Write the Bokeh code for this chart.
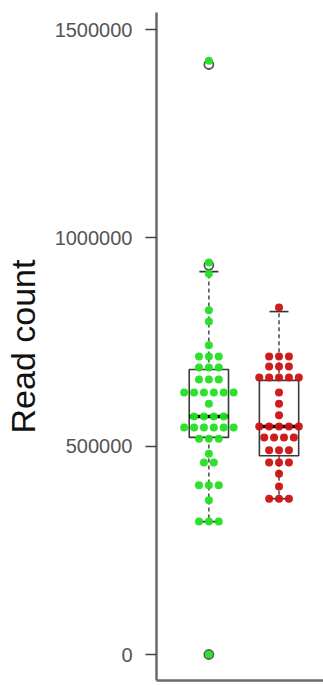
from bokeh.plotting import figure
from bokeh.models import Range1d, FixedTicker, BasicTickFormatter, ColumnDataSource
from bokeh.embed import file_html
from bokeh.resources import INLINE
import numpy as np

# ---- data ----
groups = ["A", "B"]
group_pos = [1, 2]
colors = ["#22e022", "#cc1010"]

green_values = ([1425000, 941000, 914000, 826000, 799000, 742000]
                + [715000] * 3 + [689000] * 3 + [660000] * 3 + [629000] * 6
                + [602000] + [571000] * 4 + [545000] * 6 + [518000] * 3
                + [482000] + [461000] * 2 + [406000] * 3 + [370000]
                + [319000] * 3 + [0])
red_values = ([833000] + [715000] * 3 + [691000] * 3 + [665000] * 5
              + [629000] + [602000] + [574000] + [547000] * 5 + [521000] * 4
              + [490000] * 3 + [461000] * 3 + [434000] + [403000] + [374000] * 3)

# boxplot statistics: lower whisker, Q1, median, Q3, upper whisker
box_low = [319000, 374000]
box_q1 = [521000, 477000]
box_med = [571000, 547000]
box_q3 = [684000, 658000]
box_high = [919000, 823000]
outliers_green = [1416000, 934000, 0]

W, H = 323, 685
p = figure(width=W, height=H, output_backend="svg", toolbar_location=None,
           x_range=Range1d(0.2535, 2.634), y_range=Range1d(-62400, 1540800),
           min_border_left=154, min_border_right=0, min_border_top=12,
           min_border_bottom=5)
p.grid.visible = False
p.outline_line_color = None
p.background_fill_color = "white"
p.border_fill_color = "white"

# y axis
p.yaxis.ticker = FixedTicker(ticks=[0, 500000, 1000000, 1500000])
p.yaxis.formatter = BasicTickFormatter(use_scientific=False)
p.yaxis.axis_label = "Read count"
p.yaxis.axis_label_text_font = "Liberation Sans"
p.yaxis.axis_label_text_font_size = "34px"
p.yaxis.axis_label_text_font_style = "normal"
p.yaxis.axis_label_text_color = "#111111"
p.yaxis.axis_label_standoff = 10
p.yaxis.major_label_text_font = "Liberation Sans"
p.yaxis.major_label_text_font_size = "20px"
p.yaxis.major_label_text_color = "#555555"
p.yaxis.major_label_standoff = 13
p.yaxis.major_tick_out = 11
p.yaxis.major_tick_in = 0
p.yaxis.major_tick_line_color = "#444444"
p.yaxis.major_tick_line_width = 1.5
p.yaxis.minor_tick_line_color = None
p.yaxis.axis_line_color = "#6a6a6a"
p.yaxis.axis_line_width = 2.5

# x axis: line only
p.xaxis.ticker = FixedTicker(ticks=[])
p.xaxis.major_tick_out = 0
p.xaxis.major_tick_in = 0
p.xaxis.minor_tick_line_color = None
p.xaxis.major_label_standoff = 0
p.xaxis.major_label_text_font_size = "0px"
p.xaxis.axis_line_color = "#6a6a6a"
p.xaxis.axis_line_width = 2.5

box_half = 0.28
cap_half = 0.135
spacing = 0.141  # horizontal spacing between dots in a row

# boxes
bx = np.array(group_pos, dtype=float)
p.quad(left=bx - box_half, right=bx + box_half, bottom=box_q1, top=box_q3,
       fill_color=None, line_color="#3a3a3a", line_width=1.6)
p.segment(x0=bx - box_half, x1=bx + box_half, y0=box_med, y1=box_med,
          line_color="black", line_width=3.5)
# whiskers
p.segment(x0=bx, x1=bx, y0=box_q3, y1=box_high, line_color="#555555",
          line_width=1.6, line_dash="4 3")
p.segment(x0=bx, x1=bx, y0=box_q1, y1=box_low, line_color="#555555",
          line_width=1.6, line_dash="4 3")
p.segment(x0=bx - cap_half, x1=bx + cap_half, y0=box_high, y1=box_high,
          line_color="#333333", line_width=1.6)
p.segment(x0=bx - cap_half, x1=bx + cap_half, y0=box_low, y1=box_low,
          line_color="#333333", line_width=1.6)
# outliers (open circles)
p.scatter(x=[group_pos[0]] * len(outliers_green), y=outliers_green, size=9,
          marker="circle", fill_color=None, line_color="#555555", line_width=1.8)


def swarm(values, center):
    vals = np.array(values, dtype=float)
    xs = np.zeros_like(vals)
    for v in np.unique(vals):
        idx = np.where(vals == v)[0]
        n = len(idx)
        xs[idx] = center + (np.arange(n) - (n - 1) / 2.0) * spacing
    return xs, vals


for vals, pos, col in [(green_values, group_pos[0], colors[0]),
                       (red_values, group_pos[1], colors[1])]:
    xs, ys = swarm(vals, pos)
    src = ColumnDataSource(dict(x=xs, y=ys))
    p.scatter("x", "y", source=src, size=8, marker="circle",
              fill_color=col, line_color=None, fill_alpha=0.95)

open("out.html", "w").write(file_html(p, INLINE))
